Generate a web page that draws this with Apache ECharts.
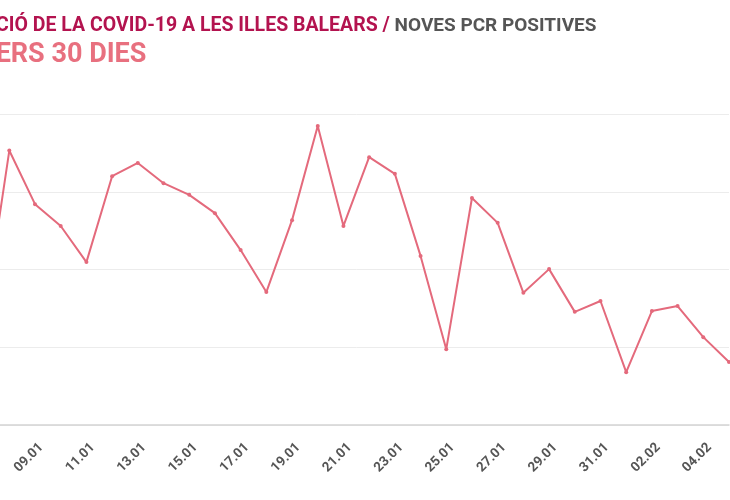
<!DOCTYPE html>
<html>
<head>
<meta charset="utf-8">
<script src="https://cdn.jsdelivr.net/npm/echarts@6/dist/echarts.min.js"></script>
<style>
  html, body { margin: 0; padding: 0; overflow: hidden; background: #fff; }
  #chart { position: absolute; left: -200px; top: 0; width: 932px; height: 500px; }
</style>
</head>
<body>
<div id="chart"></div>
<script>
// dies (darrers 30 dies)
const dies = [
  '07.01', '08.01', '09.01', '10.01', '11.01', '12.01', '13.01', '14.01', '15.01', '16.01',
  '17.01', '18.01', '19.01', '20.01', '21.01', '22.01', '23.01', '24.01', '25.01', '26.01',
  '27.01', '28.01', '29.01', '30.01', '31.01', '01.02', '02.02', '03.02', '04.02', '05.02'
];
// noves PCR positives
const positives = [
  262, 706, 568, 512, 419, 640, 674, 622, 592, 545,
  450, 342, 527, 769, 512, 689, 646, 435, 195, 584,
  520, 340, 401, 291, 319, 136, 293, 306, 226, 162
];
const yTicks = [0, 200, 400, 600, 800];

const fontCond = "Roboto, sans-serif";

const chart = echarts.init(document.getElementById('chart'));

const option = {
  animation: false,
  title: [{
    left: 131,
    top: 11,
    text: '{a|EVOLUCIÓ DE LA COVID-19 A LES ILLES BALEARS / }{b|NOVES PCR POSITIVES}',
    textStyle: {
      rich: {
        a: { color: '#b3134f', fontSize: 19.5, fontWeight: 'bold', fontFamily: fontCond },
        b: { color: '#555555', fontSize: 19, fontWeight: 'bold', fontFamily: fontCond }
      }
    }
  }, {
    left: 67.5,
    top: 37,
    text: 'ELS DARRERS 30 DIES',
    textStyle: { color: '#e8707f', fontSize: 27, fontWeight: 'bold', fontFamily: fontCond }
  }],
  grid: { left: 183.6, right: 3, top: 114, bottom: 75, containLabel: false },
  xAxis: {
    type: 'category',
    data: dies,
    boundaryGap: false,
    axisLine: { lineStyle: { color: '#d4d4d4', width: 1.5 } },
    axisTick: { show: false },
    axisLabel: {
      interval: 1,
      rotate: 45,
      margin: 14,
      color: '#555555',
      fontSize: 13.5,
      fontWeight: 'bold',
      fontFamily: fontCond,
      verticalAlign: 'top',
      lineHeight: 18
    },
    splitLine: { show: false }
  },
  yAxis: {
    type: 'value',
    min: yTicks[0],
    max: yTicks[yTicks.length - 1],
    interval: yTicks[1] - yTicks[0],
    axisLine: { show: false },
    axisTick: { show: false },
    axisLabel: { color: '#555555', fontFamily: fontCond },
    splitLine: { lineStyle: { color: '#ececec', width: 1 } }
  },
  series: [{
    type: 'line',
    data: positives,
    symbol: 'circle',
    symbolSize: 4,
    itemStyle: { color: '#e46a7c' },
    lineStyle: { color: '#e46a7c', width: 2 }
  }]
};

chart.setOption(option);
</script>
</body>
</html>
